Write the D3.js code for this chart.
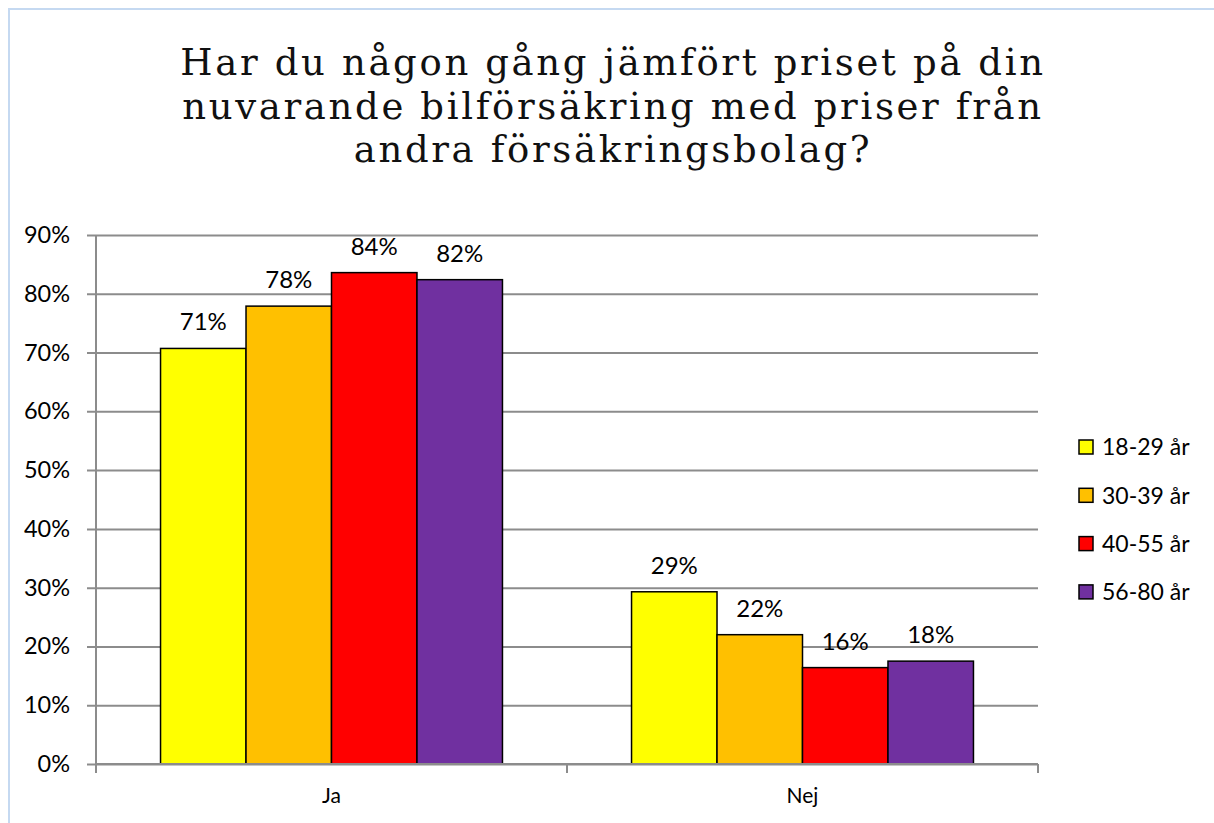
<!DOCTYPE html>
<html><head><meta charset="utf-8">
<script src="https://cdn.jsdelivr.net/npm/d3@7"></script>
<style>
html,body{margin:0;padding:0;background:#fff;}
svg{display:block;}
</style></head>
<body>
<svg id="chart" width="1214" height="823"></svg>
<script>
const categories = ["Ja", "Nej"];
const seriesNames = ["18-29 år", "30-39 år", "40-55 år", "56-80 år"];
const seriesColors = ["#FFFF00", "#FFC000", "#FF0000", "#7030A0"];
const values18_29 = [0.707, 0.293];
const values30_39 = [0.779, 0.220];
const values40_55 = [0.836, 0.164];
const values56_80 = [0.824, 0.175];
const labels18_29 = ["71%", "29%"];
const labels30_39 = ["78%", "22%"];
const labels40_55 = ["84%", "16%"];
const labels56_80 = ["82%", "18%"];
const yTicks = [0, 0.1, 0.2, 0.3, 0.4, 0.5, 0.6, 0.7, 0.8, 0.9];
const titleLines = ["Har du någon gång jämfört priset på din", "nuvarande bilförsäkring med priser från", "andra försäkringsbolag?"];

(function () {
const seriesValues = [values18_29, values30_39, values40_55, values56_80];
const seriesLabels = [labels18_29, labels30_39, labels40_55, labels56_80];

const svg = d3.select("#chart");
const labelFont = "Lato, 'Open Sans', sans-serif";

// frame
svg.append("path").attr("d", "M9,823 V9 H1214").attr("fill", "none")
  .attr("stroke", "#c5d9f1").attr("stroke-width", 2);

// title
titleLines.forEach((t, i) => {
  svg.append("text").attr("x", 613).attr("y", 75 + i * 43.6).attr("text-anchor", "middle")
    .attr("font-family", "'DejaVu Serif', serif").attr("font-size", 37)
    .attr("letter-spacing", 2.65).attr("fill", "#111").text(t);
});

const pLeft = 96, pRight = 1038, pTop = 235, pBottom = 764;
const y = d3.scaleLinear().domain([0, 0.9]).range([pBottom, pTop]);
const x0 = d3.scaleBand().domain(categories).range([pLeft, pRight]).paddingInner(0).paddingOuter(0);
const x1 = d3.scaleBand().domain(seriesNames).range([0, x0.bandwidth()]).paddingOuter(0.755).paddingInner(0);

// gridlines + y axis
const yAxis = d3.axisLeft(y).tickValues(yTicks).tickFormat(d3.format(".0%"))
  .tickSize(pRight - pLeft + 9);
const gy = svg.append("g").attr("transform", `translate(${pRight},0)`).call(yAxis);
gy.select(".domain").remove();
gy.selectAll(".tick line").attr("stroke", "#8c8c8c").attr("stroke-width", 2);
gy.selectAll(".tick text").attr("font-family", labelFont).attr("font-size", 23.5).attr("fill", "#000")
  .attr("x", -(pRight - pLeft) - 26);

// vertical axis line
svg.append("line").attr("x1", pLeft).attr("x2", pLeft).attr("y1", pTop).attr("y2", pBottom + 9)
  .attr("stroke", "#8c8c8c").attr("stroke-width", 2);

// bars
const groups = svg.append("g").selectAll("g").data(categories).join("g")
  .attr("transform", d => `translate(${x0(d)},0)`);
seriesNames.forEach((s, si) => {
  groups.append("rect")
    .attr("x", () => x1(s))
    .attr("width", x1.bandwidth())
    .attr("y", (d, ci) => y(seriesValues[si][ci]))
    .attr("height", (d, ci) => pBottom - y(seriesValues[si][ci]))
    .attr("fill", seriesColors[si]).attr("stroke", "#000").attr("stroke-width", 1.5);
  groups.append("text")
    .attr("x", x1(s) + x1.bandwidth() / 2)
    .attr("y", (d, ci) => y(seriesValues[si][ci]) - 18)
    .attr("text-anchor", "middle").attr("font-family", labelFont).attr("font-size", 24)
    .text((d, ci) => seriesLabels[si][ci]);
});

// x axis
const xAxis = d3.axisBottom(x0).tickSize(0).tickPadding(24);
const gx = svg.append("g").attr("transform", `translate(0,${pBottom})`).call(xAxis);
gx.select(".domain").attr("stroke", "#8c8c8c").attr("stroke-width", 2).attr("d", `M${pLeft},0H${pRight}`);
gx.selectAll(".tick text").attr("font-family", labelFont).attr("font-size", 21).attr("fill", "#000");
const seps = [pLeft, ...categories.map(c => x0(c) + x0.bandwidth())];
svg.append("g").selectAll("line").data(seps).join("line")
  .attr("x1", d => d).attr("x2", d => d).attr("y1", pBottom).attr("y2", pBottom + 9)
  .attr("stroke", "#8c8c8c").attr("stroke-width", 2);

// legend
const legend = svg.append("g").selectAll("g").data(seriesNames).join("g")
  .attr("transform", (d, i) => `translate(1079,${440 + i * 48.3})`);
legend.append("rect").attr("width", 14).attr("height", 14)
  .attr("fill", (d, i) => seriesColors[i]).attr("stroke", "#000").attr("stroke-width", 1.5);
legend.append("text").attr("x", 23).attr("y", 7).attr("dy", "0.36em")
  .attr("font-family", labelFont).attr("font-size", 23).text(d => d);
})();
</script>
</body></html>
